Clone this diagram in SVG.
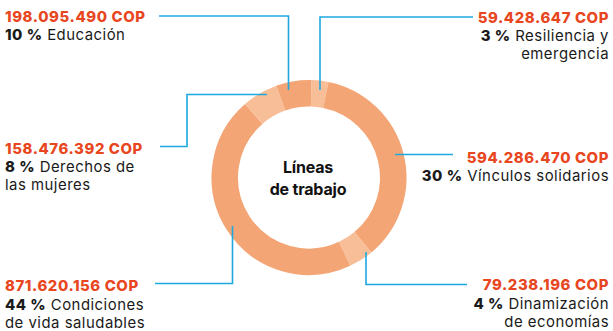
<svg xmlns="http://www.w3.org/2000/svg" width="613" height="331" viewBox="0 0 613 331">
<style>
.seg{fill:none;stroke-width:26.5}
.dk{stroke:#F4A575}
.lt{stroke:#F8BE98}
.con{fill:none;stroke:#1FA8E0;stroke-width:1.6}
text{font-family:Inter,"Noto Sans","Liberation Sans",sans-serif;font-size:14.9px}
.amt{font-weight:800;fill:#E8461E;letter-spacing:0.6px}
.lbl{fill:#1A1A1A;font-weight:400;letter-spacing:0.5px}
.lbl tspan.b{font-weight:800}
.ctr{font-weight:700;fill:#111;font-size:16px;letter-spacing:-0.2px}
.r{text-anchor:end}
</style>
<rect width="613" height="331" fill="#fff"/>
<g id="ring">
<path id="seg-resiliencia" class="seg lt" d="M311.21,93.28 A84.25,84.25 0 0 1 325.80,94.94"/>
<path id="seg-vinculos" class="seg dk" d="M325.80,94.94 A84.25,84.25 0 0 1 362.93,242.23"/>
<path id="seg-dinamizacion" class="seg lt" d="M362.93,242.23 A84.25,84.25 0 0 1 344.61,253.86"/>
<path id="seg-condiciones" class="seg dk" d="M344.61,253.86 A84.25,84.25 0 0 1 253.73,113.92"/>
<path id="seg-derechos" class="seg lt" d="M253.73,113.92 A84.25,84.25 0 0 1 280.74,98.13"/>
<path id="seg-educacion" class="seg dk" d="M280.74,98.13 A84.25,84.25 0 0 1 311.21,93.28"/>
</g>
<g id="center">
<text class="ctr" x="308" y="173" text-anchor="middle">Líneas</text>
<text class="ctr" x="308" y="195" text-anchor="middle">de trabajo</text>
</g>
<g id="connectors">
<path class="con" d="M159,16 H288.5 V90"/>
<path class="con" d="M473,17 H320 V90"/>
<path class="con" d="M160,146.5 H187 V94.5 H267"/>
<path class="con" d="M395,154.5 H453"/>
<path class="con" d="M155,283.5 H232.5 V226"/>
<path class="con" d="M366,252 V284.5 H467"/>
</g>
<g id="educacion">
<text class="amt" x="5" y="22">198.095.490 COP</text>
<text class="lbl" x="5" y="40"><tspan class="b">10 %</tspan> Educación</text>
</g>
<g id="resiliencia">
<text class="amt r" x="609" y="23">59.428.647 COP</text>
<text class="lbl r" x="609" y="41"><tspan class="b">3 %</tspan> Resiliencia y</text>
<text class="lbl r" x="609" y="59">emergencia</text>
</g>
<g id="derechos">
<text class="amt" x="5" y="154">158.476.392 COP</text>
<text class="lbl" x="5" y="172"><tspan class="b">8 %</tspan> Derechos de</text>
<text class="lbl" x="5" y="190">las mujeres</text>
</g>
<g id="vinculos">
<text class="amt r" x="609" y="163">594.286.470 COP</text>
<text class="lbl r" x="609" y="181"><tspan class="b">30 %</tspan> Vínculos solidarios</text>
</g>
<g id="condiciones">
<text class="amt" x="5" y="291">871.620.156 COP</text>
<text class="lbl" x="5" y="310"><tspan class="b">44 %</tspan> Condiciones</text>
<text class="lbl" x="5" y="328">de vida saludables</text>
</g>
<g id="dinamizacion">
<text class="amt r" x="609" y="290">79.238.196 COP</text>
<text class="lbl r" x="609" y="309"><tspan class="b">4 %</tspan> Dinamización</text>
<text class="lbl r" x="609" y="327">de economías</text>
</g>
</svg>
